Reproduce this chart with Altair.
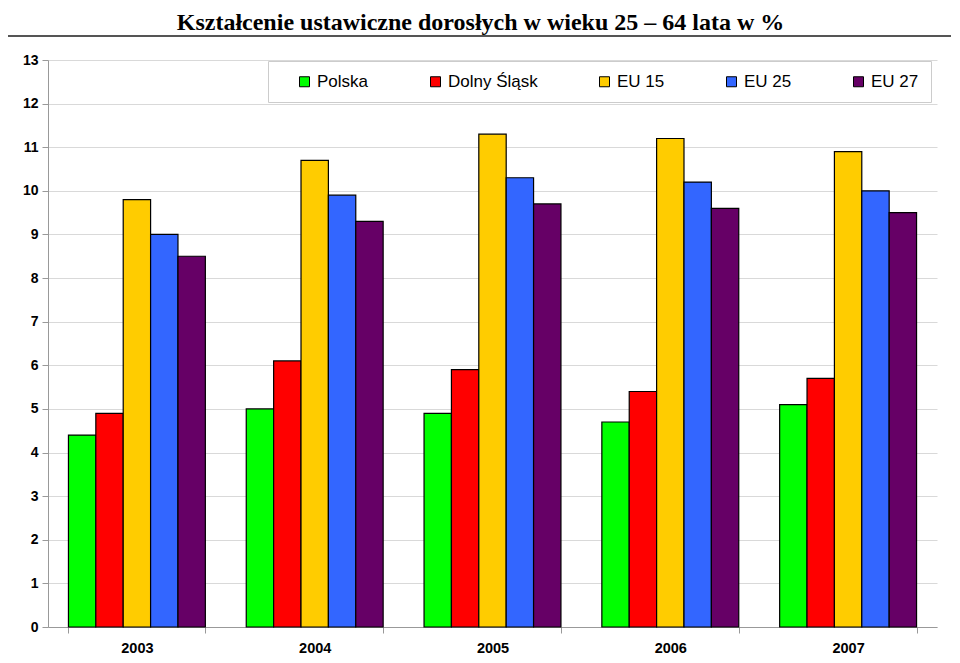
import altair as alt
import pandas as pd

years = ["2003", "2004", "2005", "2006", "2007"]
series = ["Polska", "Dolny Śląsk", "EU 15", "EU 25", "EU 27"]
colors = ["#00FF00", "#FF0000", "#FFCC00", "#3366FF", "#660066"]
polska = [4.4, 5.0, 4.9, 4.7, 5.1]
dolny = [4.9, 6.1, 5.9, 5.4, 5.7]
eu15 = [9.8, 10.7, 11.3, 11.2, 10.9]
eu25 = [9.0, 9.9, 10.3, 10.2, 10.0]
eu27 = [8.5, 9.3, 9.7, 9.6, 9.5]
title = "Kształcenie ustawiczne dorosłych  w wieku 25 – 64 lata w %"

rows = []
for name, vals in zip(series, [polska, dolny, eu15, eu25, eu27]):
    for y, v in zip(years, vals):
        rows.append({"rok": y, "seria": name, "wartosc": v})
df = pd.DataFrame(rows)

W, H = 889, 567
PL, PT, PR, PB = 40, 52, 14, 28

bars = alt.Chart(df).mark_bar(stroke="black", strokeWidth=1.2).encode(
    x=alt.X("rok:N", sort=years, title=None,
            scale=alt.Scale(paddingInner=0.23, paddingOuter=0.115),
            axis=alt.Axis(labelAngle=0, labelFont="Liberation Sans", labelFontWeight="bold",
                          labelFontSize=14.5, labelColor="black", labelPadding=8,
                          tickBand="extent", tickColor="#999999", tickSize=6,
                          domainColor="#999999", grid=False)),
    xOffset=alt.XOffset("seria:N", sort=series, scale=alt.Scale(paddingInner=0, paddingOuter=0)),
    y=alt.Y("wartosc:Q", title=None,
            scale=alt.Scale(domain=[0, 13], nice=False),
            axis=alt.Axis(values=list(range(0, 14)), labelFont="Liberation Sans",
                          labelFontWeight="bold", labelFontSize=14, labelColor="black",
                          tickColor="#999999", tickSize=6, domainColor="#999999",
                          gridColor="#d9d9d9", labelPadding=4)),
    color=alt.Color("seria:N", sort=series,
                    scale=alt.Scale(domain=series, range=colors),
                    legend=alt.Legend(title=None, orient="none", legendX=220, legendY=1,
                                      direction="horizontal", columns=5,
                                      symbolType="square", symbolSize=100,
                                      symbolStrokeColor="black", symbolStrokeWidth=1,
                                      symbolOpacity=1, symbolOffset=16,
                                      labelFont="Liberation Sans", labelFontSize=17,
                                      labelColor="black", labelOffset=4,
                                      columnPadding=42, padding=12,
                                      strokeColor="#cccccc", fillColor="white")),
)

line = alt.Chart(pd.DataFrame({"a": [0]})).mark_rule(color="#555555", strokeWidth=2).encode(
    x=alt.value(-PL), x2=alt.value(W + PR), y=alt.value(-24)
)

chart = alt.layer(bars, line).properties(
    width=W, height=H,
    title=alt.TitleParams(title, font="Liberation Serif", fontSize=24, fontWeight="bold",
                          color="black", anchor="middle", offset=0, dx=-12),
    autosize=alt.AutoSizeParams(type="none"),
    padding={"left": PL, "top": PT, "right": PR, "bottom": PB},
).configure_view(stroke=None)

chart.save("out.html", embed_options={"renderer": "svg", "actions": False})
